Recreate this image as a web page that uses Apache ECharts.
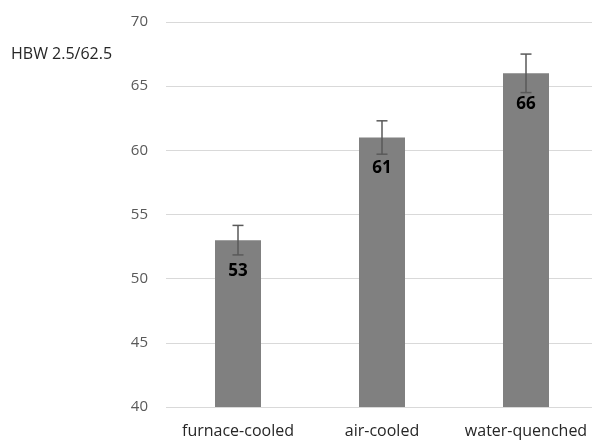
<!DOCTYPE html>
<html><head><meta charset="utf-8">
<script src="https://cdn.jsdelivr.net/npm/echarts@6/dist/echarts.min.js"></script>
<style>html,body{margin:0;padding:0;background:#fff}#c{width:592px;height:440px}</style>
</head><body><div id="c"></div>
<script>
var categories = ['furnace-cooled', 'air-cooled', 'water-quenched'];
var values = [53, 61, 66];
var errors = [1.15, 1.3, 1.5];
var yTicks = [40, 45, 50, 55, 60, 65, 70];
var yName = 'HBW 2.5/62.5';

var chart = echarts.init(document.getElementById('c'));
var font = "'Open Sans', 'Noto Sans', sans-serif";
chart.setOption({
  animation: false,
  grid: { left: 166, width: 432, top: 22, bottom: 33, containLabel: false, outerBoundsMode: 'none' },
  graphic: [{ type: 'text', left: 11, top: 46, style: { text: yName, fontSize: 16, fontFamily: font, fill: '#262626' } }],
  xAxis: {
    type: 'category', data: categories,
    axisLine: { show: false }, axisTick: { show: false },
    axisLabel: { fontSize: 16, color: '#262626', fontFamily: font, margin: 16, interval: 0 }
  },
  yAxis: {
    type: 'value', min: yTicks[0], max: yTicks[yTicks.length - 1], interval: 5,
    axisLine: { show: false }, axisTick: { show: false },
    axisLabel: { fontSize: 15, color: '#595959', fontFamily: font, margin: 18 },
    splitLine: { lineStyle: { color: '#d9d9d9', width: 1 } }
  },
  series: [{
    type: 'bar', data: values, barWidth: 46,
    itemStyle: { color: '#808080' },
    label: { show: true, position: 'insideTop', distance: 22, color: '#000', fontWeight: 'bold', fontSize: 17, fontFamily: font }
  }, {
    type: 'custom',
    data: values.map(function (v, i) { return [i, v - errors[i], v + errors[i]]; }),
    renderItem: function (params, api) {
      var lo = api.coord([api.value(0), api.value(1)]);
      var hi = api.coord([api.value(0), api.value(2)]);
      var w = 5.5, st = { stroke: '#595959', lineWidth: 1.5 };
      return { type: 'group', children: [
        { type: 'line', shape: { x1: hi[0], y1: hi[1], x2: lo[0], y2: lo[1] }, style: st },
        { type: 'line', shape: { x1: hi[0] - w, y1: hi[1], x2: hi[0] + w, y2: hi[1] }, style: st },
        { type: 'line', shape: { x1: lo[0] - w, y1: lo[1], x2: lo[0] + w, y2: lo[1] }, style: st }
      ]};
    },
    z: 10
  }]
});
</script></body></html>
